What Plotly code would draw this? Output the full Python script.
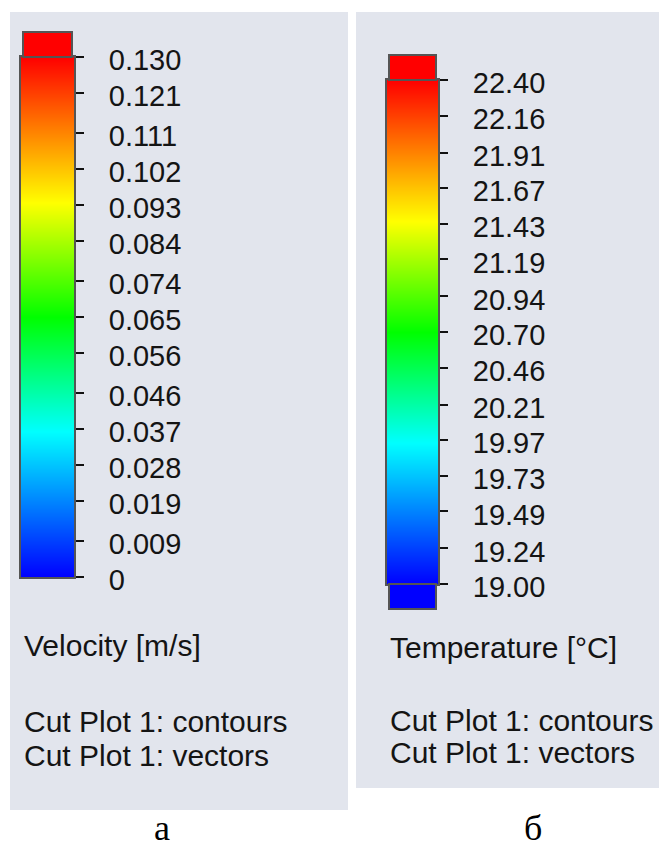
import plotly.graph_objects as go

W, H = 659, 852

# ---- data -------------------------------------------------------------
vel_ticks = [0, 0.009, 0.019, 0.028, 0.037, 0.046, 0.056, 0.065,
             0.074, 0.084, 0.093, 0.102, 0.111, 0.121, 0.130]
vel_labels = ["0", "0.009", "0.019", "0.028", "0.037", "0.046", "0.056", "0.065",
              "0.074", "0.084", "0.093", "0.102", "0.111", "0.121", "0.130"]
temp_ticks = [19.00, 19.24, 19.49, 19.73, 19.97, 20.21, 20.46, 20.70,
              20.94, 21.19, 21.43, 21.67, 21.91, 22.16, 22.40]
temp_labels = ["19.00", "19.24", "19.49", "19.73", "19.97", "20.21", "20.46", "20.70",
               "20.94", "21.19", "21.43", "21.67", "21.91", "22.16", "22.40"]
titles = ["Velocity [m/s]", "Temperature [°C]"]
sub_lines = ["Cut Plot 1: contours", "Cut Plot 1: vectors"]
panel_letters = ["а", "б"]

# ---- styling ----------------------------------------------------------
colorscale = [[0.0, "rgb(0,0,255)"], [0.28, "rgb(0,255,255)"], [0.5, "rgb(0,255,0)"],
              [0.72, "rgb(255,255,0)"], [1.0, "rgb(255,0,0)"]]
PANEL = "rgb(226,229,237)"
BORDER = "rgb(85,85,85)"
TXT = "#141414"
SANS = "Liberation Sans, Arial, sans-serif"
SERIF = "Liberation Serif, Times New Roman, serif"


def px(x):
    return x / W


def py(y):
    return 1 - y / H


fig = go.Figure()

fig.add_trace(go.Heatmap(x=[0, 1], y=vel_ticks, z=[[v, v] for v in vel_ticks],
                         colorscale=colorscale, zmin=vel_ticks[0], zmax=vel_ticks[-1],
                         zsmooth="best", showscale=False, hoverinfo="skip",
                         xaxis="x", yaxis="y"))
fig.add_trace(go.Heatmap(x=[0, 1], y=temp_ticks, z=[[v, v] for v in temp_ticks],
                         colorscale=colorscale, zmin=temp_ticks[0], zmax=temp_ticks[-1],
                         zsmooth="best", showscale=False, hoverinfo="skip",
                         xaxis="x2", yaxis="y2"))

xcommon = dict(range=[0.2, 0.8], showticklabels=False, ticks="", showgrid=False,
               zeroline=False, showline=True, mirror=True, linecolor=BORDER,
               linewidth=2, fixedrange=True, automargin=False)
ycommon = dict(side="right", ticks="outside", ticklen=8, tickwidth=2, tickcolor="#111",
               tickfont=dict(family=SANS, size=29, color=TXT), showgrid=False,
               zeroline=False, showline=True, mirror=True, linecolor=BORDER,
               linewidth=2, ticklabelstandoff=19, ticklabelshift=3,
               fixedrange=True, automargin=False)

fig.update_layout(
    width=W, height=H, margin=dict(l=0, r=0, t=0, b=0, pad=0, autoexpand=False),
    paper_bgcolor="white", plot_bgcolor="rgba(0,0,0,0)", showlegend=False,
    xaxis=dict(domain=[px(21), px(74)], anchor="y", **xcommon),
    yaxis=dict(domain=[py(577), py(57)], anchor="x", range=[vel_ticks[0], vel_ticks[-1]],
               tickvals=vel_ticks, ticktext=vel_labels, **ycommon),
    xaxis2=dict(domain=[px(387), px(438)], anchor="y2", **xcommon),
    yaxis2=dict(domain=[py(584), py(80)], anchor="x2", range=[temp_ticks[0], temp_ticks[-1]],
                tickvals=temp_ticks, ticktext=temp_labels, **ycommon),
)

shapes = [
    # panel backgrounds
    dict(type="rect", xref="paper", yref="paper", x0=px(10), x1=px(348), y0=py(810), y1=py(12),
         fillcolor=PANEL, line=dict(width=0), layer="below"),
    dict(type="rect", xref="paper", yref="paper", x0=px(356), x1=px(659), y0=py(788), y1=py(12),
         fillcolor=PANEL, line=dict(width=0), layer="below"),
    # over-range caps
    dict(type="rect", xref="paper", yref="paper", x0=px(23), x1=px(72), y0=py(57), y1=py(32),
         fillcolor="rgb(255,0,0)", line=dict(color=BORDER, width=2), layer="above"),
    dict(type="rect", xref="paper", yref="paper", x0=px(389), x1=px(436), y0=py(80), y1=py(55),
         fillcolor="rgb(255,0,0)", line=dict(color=BORDER, width=2), layer="above"),
    dict(type="rect", xref="paper", yref="paper", x0=px(389), x1=px(436), y0=py(609), y1=py(584),
         fillcolor="rgb(0,0,255)", line=dict(color=BORDER, width=2), layer="above"),
]
fig.update_layout(shapes=shapes)

ann = []
text_pos = [
    (22, [645, 721, 755]),
    (388, [647, 720, 752]),
]
for (x0, ys), title in zip(text_pos, titles):
    for txt, y in zip([title] + sub_lines, ys):
        ann.append(dict(text=txt, xref="paper", yref="paper", x=px(x0), y=py(y),
                        xanchor="left", yanchor="middle", showarrow=False,
                        font=dict(family=SANS, size=30, color=TXT)))
for letter, x in zip(panel_letters, [162, 533]):
    ann.append(dict(text=letter, xref="paper", yref="paper", x=px(x), y=py(828),
                    xanchor="center", yanchor="middle", showarrow=False,
                    font=dict(family=SERIF, size=36, color="black")))
fig.update_layout(annotations=ann)

fig.write_html("out.html")
